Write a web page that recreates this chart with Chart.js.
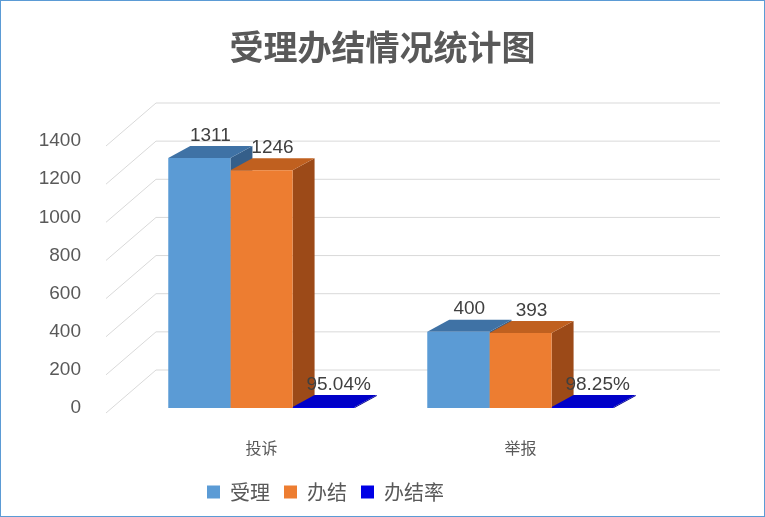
<!DOCTYPE html>
<html><head><meta charset="utf-8">
<script src="https://cdn.jsdelivr.net/npm/chart.js@4"></script>
<style>
html,body{margin:0;padding:0;background:#fff;}
#wrap{position:absolute;left:0;top:0;width:763px;height:515px;border:1px solid #5B9BD5;}
#title{position:absolute;left:0;top:20px;width:763px;text-align:center;font:bold 34px "Noto Sans CJK SC",sans-serif;color:#595959;}
</style></head><body>
<div id="wrap"><canvas id="c" width="763" height="515"></canvas><div id="title">受理办结情况统计图</div></div>
<script>
const categories = ['投诉', '举报'];
const accepted = [1311, 400];
const concluded = [1246, 393];
const rate = [0.9504, 0.9825];
const yTicks = [0, 200, 400, 600, 800, 1000, 1200, 1400];
const seriesNames = ['受理', '办结', '办结率'];

const DX = 22, DY = -12;
const faces = [
  {front:'#5B9BD5', top:'#3F72A5', side:'#355F8A'},
  {front:'#ED7D31', top:'#C0601F', side:'#9C4A18'},
  {front:'#0000E6', top:'#0000C8', side:'#00008A'}
];
const fmt = (di, v) => di === 2 ? (v*100).toFixed(2) + '%' : String(v);

const threeD = {
  id: 'threeD',
  beforeDatasetsDraw(chart) {
    const ctx = chart.ctx, a = chart.chartArea, y = chart.scales.y;
    ctx.save();
    ctx.strokeStyle = '#D9D9D9'; ctx.lineWidth = 1;
    yTicks.forEach(t => {
      const py = y.getPixelForValue(t);
      ctx.beginPath();
      ctx.moveTo(a.left - 26, py + 5);
      ctx.lineTo(a.left + 24, py - 38);
      ctx.lineTo(a.right + 70, py - 38);
      ctx.stroke();
    });
    chart.data.datasets.forEach((ds, di) => {
      chart.getDatasetMeta(di).data.forEach(bar => {
        const l = bar.x - bar.width/2, r = bar.x + bar.width/2, t = bar.y, b = bar.base;
        ctx.fillStyle = faces[di].side;
        ctx.beginPath(); ctx.moveTo(r, t); ctx.lineTo(r+DX, t+DY); ctx.lineTo(r+DX, b+DY); ctx.lineTo(r, b); ctx.closePath(); ctx.fill();
        ctx.fillStyle = faces[di].top;
        ctx.beginPath(); ctx.moveTo(l, t); ctx.lineTo(l+DX, t+DY); ctx.lineTo(r+DX, t+DY); ctx.lineTo(r, t); ctx.closePath(); ctx.fill();
      });
    });
    ctx.restore();
  },
  afterDatasetsDraw(chart) {
    const ctx = chart.ctx;
    ctx.save();
    ctx.font = '19px "Liberation Sans", "Noto Sans", sans-serif';
    ctx.fillStyle = '#404040'; ctx.textAlign = 'center'; ctx.textBaseline = 'bottom';
    chart.data.datasets.forEach((ds, di) => {
      chart.getDatasetMeta(di).data.forEach((bar, i) => {
        ctx.fillText(fmt(di, ds.data[i]), bar.x + DX/2 + (di===2?4:0), bar.y + DY - 1);
      });
    });
    ctx.restore();
  }
};

new Chart(document.getElementById('c'), {
  type: 'bar',
  data: {
    labels: categories,
    datasets: [
      {label: seriesNames[0], data: accepted, backgroundColor: faces[0].front},
      {label: seriesNames[1], data: concluded, backgroundColor: faces[1].front},
      {label: seriesNames[2], data: rate, backgroundColor: faces[2].front}
    ]
  },
  options: {
    responsive: false, animation: false,
    layout: {padding: {left: 0, right: 114, top: 140, bottom: 4}},
    datasets: {bar: {categoryPercentage: 0.72, barPercentage: 1, minBarLength: 1}},
    plugins: {
      title: {display: false},
      legend: {position: 'bottom', labels: {color: '#595959', boxWidth: 13, boxHeight: 13, padding: 14,
        font: {size: 20, family: '"Noto Sans CJK SC", sans-serif'}}},
      tooltip: {enabled: false}
    },
    scales: {
      x: {grid: {display: false}, border: {display: false},
        afterFit: s => { s.height = 60; },
        ticks: {color: '#595959', font: {size: 16, family: '"Noto Sans CJK SC", sans-serif'}, padding: 22}},
      y: {min: 0, max: 1400, grid: {display: false}, border: {display: false},
        afterBuildTicks: s => { s.ticks = yTicks.map(v => ({value: v})); },
        afterFit: s => { s.width = 131; },
        ticks: {color: '#595959', font: {size: 19, family: '"Liberation Sans", sans-serif'}, padding: 43,
          callback: v => String(v)}}
    }
  },
  plugins: [threeD]
});
</script>
</body></html>
